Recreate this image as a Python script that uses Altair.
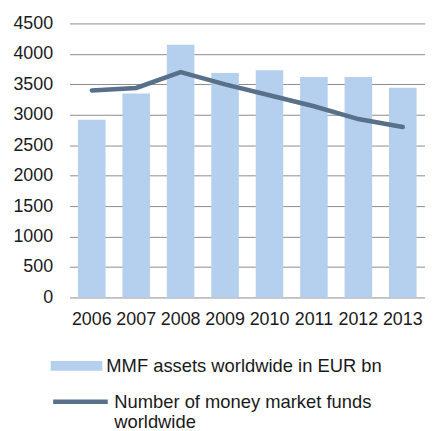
import altair as alt
import pandas as pd

years = ["2006", "2007", "2008", "2009", "2010", "2011", "2012", "2013"]
assets = [2920, 3350, 4150, 3685, 3730, 3620, 3620, 3445]
funds = [3400, 3440, 3700, 3500, 3320, 3140, 2930, 2800]
y_ticks = [0, 500, 1000, 1500, 2000, 2500, 3000, 3500, 4000, 4500]

s_bar = "MMF assets worldwide in EUR bn"
s_line = "Number of money market funds worldwide"

df = pd.DataFrame({"year": years, "assets": assets, "funds": funds,
                   "s_bar": [s_bar] * len(years), "s_line": [s_line] * len(years)})

FONT = "Liberation Sans"
FS = 18
LFS = 18.5
x = alt.X("year:N", title=None,
          scale=alt.Scale(paddingInner=0.38, paddingOuter=0.19),
          axis=alt.Axis(labelAngle=0, ticks=False, domain=False, labelPadding=13))

yaxis = alt.Axis(values=y_ticks, format="d", ticks=False, domain=False,
                 labelPadding=17, minExtent=62, grid=True, gridColor="#8c8c8c",
                 gridWidth=1, labelOverlap=False)
yscale = alt.Scale(domain=[0, 4500], nice=False)

bars = alt.Chart(df).mark_bar(color="#B5D0EE").encode(
    x=x,
    y=alt.Y("assets:Q", title=None, scale=yscale, axis=yaxis),
    fill=alt.Fill("s_bar:N", title=None,
                  scale=alt.Scale(range=["#B5D0EE"]),
                  legend=alt.Legend(orient="none", legendX=-19, legendY=319,
                                    symbolType="M-1,-0.19H1V0.19H-1Z", symbolSize=2704,
                                    symbolStrokeWidth=0, labelFontSize=LFS, labelFont=FONT,
                                    labelColor="#1a1a1a", labelOffset=4, labelLimit=400)),
)

line = alt.Chart(df).mark_line(strokeWidth=4.5, strokeCap="round").encode(
    x=x,
    y=alt.Y("funds:Q", title=None, scale=yscale, axis=yaxis),
    stroke=alt.Stroke("s_line:N", title=None,
                      scale=alt.Scale(range=["#587089"]),
                      legend=alt.Legend(orient="none", legendX=-19, legendY=351,
                                        symbolType="stroke", symbolSize=3025,
                                        symbolStrokeWidth=4.5, labelFontSize=LFS,
                                        labelFont=FONT, labelColor="#1a1a1a",
                                        labelOffset=4, labelLimit=400,
                                        labelExpr="datum.label == '" + s_line + "' ? ['Number of money market funds', 'worldwide'] : datum.label")),
)

chart = alt.layer(bars, line).resolve_scale(fill="independent", stroke="independent").properties(
    width=358, height=276, padding={"left": 0, "top": 5, "right": 0, "bottom": 0}
).configure_view(stroke=None).configure_axis(
    labelFontSize=FS, labelFont=FONT, labelColor="#1a1a1a"
)

chart.save("out.html", embed_options={"renderer": "svg", "actions": False})
